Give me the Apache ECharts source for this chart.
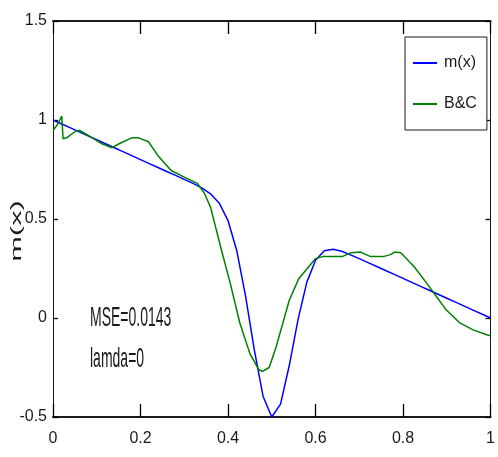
<!DOCTYPE html>
<html><head><meta charset="utf-8">
<script src="https://cdn.jsdelivr.net/npm/echarts@6/dist/echarts.min.js"></script>
<style>html,body{margin:0;padding:0;background:#fff}#c{width:498px;height:457px}</style>
</head><body><div id="c"></div>
<script>
// x positions and values for m(x)
const mX = [0,0.02,0.04,0.06,0.08,0.10,0.12,0.14,0.16,0.18,0.20,0.22,0.24,0.26,0.28,0.30,0.32,0.34,0.36,0.38,0.40,0.42,0.44,0.46,0.48,0.50,0.52,0.54,0.56,0.58,0.60,0.62,0.64,0.66,0.68,0.70,0.72,0.74,0.76,0.78,0.80,0.82,0.84,0.86,0.88,0.90,0.92,0.94,0.96,0.98,1.00];
const mY = [1.00,0.98,0.96,0.94,0.92,0.90,0.88,0.86,0.84,0.82,0.80,0.78,0.76,0.74,0.72,0.70,0.68,0.657,0.627,0.58,0.492,0.34,0.112,-0.16,-0.395,-0.50,-0.435,-0.24,-0.008,0.18,0.292,0.34,0.347,0.337,0.319,0.30,0.28,0.26,0.24,0.22,0.20,0.18,0.16,0.14,0.12,0.10,0.08,0.06,0.04,0.02,0.00];
// B&C estimate
const bcX = [0.000,0.011,0.020,0.023,0.031,0.054,0.061,0.090,0.112,0.135,0.151,0.180,0.196,0.218,0.240,0.270,0.301,0.330,0.346,0.360,0.383,0.405,0.427,0.450,0.470,0.479,0.494,0.510,0.540,0.562,0.585,0.600,0.616,0.661,0.681,0.703,0.726,0.755,0.771,0.781,0.795,0.825,0.854,0.877,0.899,0.930,0.960,0.993,1.000];
const bcY = [0.947,0.98,1.02,0.905,0.91,0.947,0.947,0.91,0.88,0.86,0.88,0.91,0.91,0.89,0.82,0.745,0.71,0.68,0.63,0.56,0.36,0.176,-0.025,-0.18,-0.26,-0.27,-0.25,-0.146,0.09,0.20,0.26,0.30,0.31,0.31,0.33,0.333,0.31,0.31,0.32,0.333,0.33,0.26,0.176,0.106,0.04,-0.025,-0.06,-0.086,-0.09];
const seriesNames = ['m(x)', 'B&C'];
const yTitle = 'm(x)';
const notes = ['MSE=0.0143', 'lamda=0'];

const FONT = "'Liberation Sans Narrow','Liberation Sans',Arial,sans-serif";
const INK = '#1a1a1a';
const chart = echarts.init(document.getElementById('c'), null, {renderer: 'canvas'});
function xAx(pos, showLabel) {
  return {
    type: 'value', min: 0, max: 1, interval: 0.2, position: pos,
    splitLine: {show: false},
    axisLine: {show: true, onZero: false, lineStyle: {color: INK, width: 2}},
    axisTick: {show: true, inside: true, length: 13, lineStyle: {color: '#000', width: 1.3}},
    axisLabel: showLabel ? {color: INK, fontFamily: FONT, fontSize: 16, margin: 14} : {show: false}
  };
}
function yAx(pos, showLabel) {
  return {
    type: 'value', min: -0.5, max: 1.5, interval: 0.5, position: pos,
    splitLine: {show: false},
    axisLine: {show: true, onZero: false, lineStyle: {color: INK, width: 1}},
    axisTick: {show: true, inside: true, length: 5, lineStyle: {color: '#000', width: 1.3}},
    axisLabel: showLabel ? {color: INK, fontFamily: FONT, fontSize: 16, margin: 6} : {show: false}
  };
}
chart.setOption({
  animation: false,
  grid: {left: 53, right: -1, top: 21, bottom: 40},
  xAxis: [xAx('bottom', true), xAx('top', false)],
  yAxis: [yAx('left', true), yAx('right', false)],
  legend: {
    orient: 'vertical', left: 405, top: 37,
    backgroundColor: '#fff', borderColor: INK, borderWidth: 1,
    padding: [16, 10, 16, 8], itemWidth: 24, itemHeight: 2, itemGap: 21,
    icon: 'rect',
    textStyle: {fontFamily: FONT, fontSize: 16, color: INK, lineHeight: 20, padding: [0, 0, 0, 2]},
    data: seriesNames
  },
  graphic: [
    {type: 'text', x: 90, y: 318, scaleY: 2, style: {text: notes[0], font: "14px " + FONT, fill: INK, align: 'left', verticalAlign: 'middle'}},
    {type: 'text', x: 90, y: 359, scaleY: 2, style: {text: notes[1], font: "14px " + FONT, fill: INK, align: 'left', verticalAlign: 'middle'}},
    {type: 'text', x: 17, y: 231, rotation: Math.PI / 2, scaleX: 2.2, style: {text: yTitle, font: "14px " + FONT, fill: INK, align: 'center', verticalAlign: 'middle'}}
  ],
  series: [
    {name: seriesNames[0], type: 'line', symbol: 'none', color: '#0000ff', lineStyle: {width: 1.5, color: '#0000ff'},
      data: mX.map((x, i) => [x, mY[i]])},
    {name: seriesNames[1], type: 'line', symbol: 'none', color: '#008000', lineStyle: {width: 1.5, color: '#008000'},
      data: bcX.map((x, i) => [x, bcY[i]])}
  ]
});
</script></body></html>
